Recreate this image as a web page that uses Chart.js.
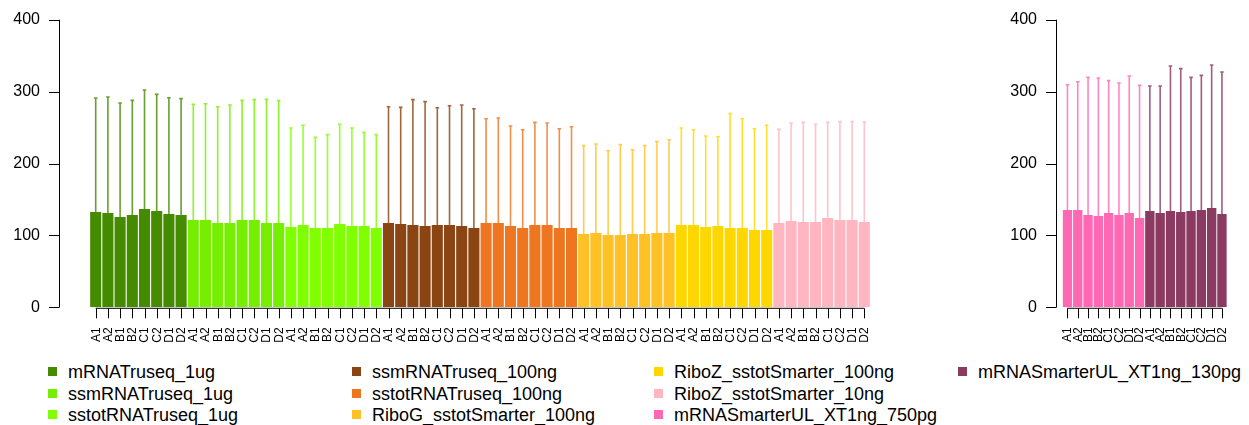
<!DOCTYPE html>
<html>
<head>
<meta charset="utf-8">
<script src="https://cdn.jsdelivr.net/npm/chart.js@4"></script>
<style>
  body { margin: 0; background: #fff; width: 1249px; height: 425px; overflow: hidden; position: relative; font-family: "Liberation Sans", Arial, sans-serif; }
  #leftBox { position: absolute; left: 0; top: 0; width: 900px; height: 360px; }
  #rightBox { position: absolute; left: 990px; top: 0; width: 259px; height: 360px; }
  .item { position: absolute; font-size: 18px; line-height: 20px; color: #000; white-space: nowrap; }
  .item span { position: absolute; width: 9px; height: 9px; left: -20px; top: 5px; }
</style>
</head>
<body>
<div id="leftBox"><canvas id="leftChart" width="900" height="360"></canvas></div>
<div id="rightBox"><canvas id="rightChart" width="259" height="360"></canvas></div>
<div id="legend"></div>

<script>
// replicate labels under every group
const replicates = ['A1', 'A2', 'B1', 'B2', 'C1', 'C2', 'D1', 'D2'];
const yTicks = [0, 100, 200, 300, 400];

// group means and upper error ends
const mRNATruseq1ug = [132.6, 131.2, 125.6, 128.4, 136.7, 134.0, 129.8, 128.4];
const mRNATruseq1ugUpper = [291.1, 292.5, 284.1, 287.8, 302.2, 296.2, 291.5, 290.2];
const ssmRNATruseq1ug = [121.4, 121.4, 117.3, 117.3, 121.4, 121.4, 117.3, 117.3];
const ssmRNATruseq1ugUpper = [282.3, 283.2, 279.0, 281.3, 287.8, 288.8, 289.2, 287.4];
const sstotRNATruseq1ug = [111.7, 114.5, 110.3, 110.3, 115.9, 113.1, 113.1, 110.3];
const sstotRNATruseq1ugUpper = [249.4, 253.1, 236.4, 240.1, 254.5, 249.4, 243.3, 240.1];
const ssmRNATruseq100ng = [117.3, 115.9, 114.5, 113.1, 114.5, 114.5, 113.1, 110.3];
const ssmRNATruseq100ngUpper = [279.0, 278.1, 288.8, 286.0, 277.6, 280.4, 281.3, 276.2];
const sstotRNATruseq100ng = [117.3, 117.3, 113.1, 110.3, 114.5, 114.5, 110.3, 110.3];
const sstotRNATruseq100ngUpper = [262.3, 263.3, 252.1, 247.0, 257.2, 256.3, 248.4, 251.2];
const riboGsstot100ng = [102.0, 103.4, 100.6, 100.6, 102.0, 102.0, 103.4, 103.4];
const riboGsstot100ngUpper = [224.8, 227.1, 217.8, 226.2, 219.2, 224.8, 230.4, 233.1];
const riboZsstot100ng = [114.5, 114.5, 111.7, 113.1, 110.3, 110.3, 107.5, 107.5];
const riboZsstot100ngUpper = [249.4, 247.0, 238.2, 237.3, 269.3, 262.3, 248.4, 253.1];
const riboZsstot10ng = [117.3, 120.0, 118.7, 118.7, 124.2, 121.4, 121.4, 118.7];
const riboZsstot10ngUpper = [247.5, 256.3, 257.2, 254.5, 257.2, 258.2, 258.2, 257.7];
const smarterUL750pg = [135.3, 135.3, 128.4, 127.0, 131.2, 128.4, 131.2, 124.2];
const smarterUL750pgUpper = [309.6, 313.8, 319.8, 318.9, 315.2, 311.9, 321.7, 308.7];
const smarterUL130pg = [134.0, 131.2, 134.0, 132.6, 134.0, 135.3, 138.1, 129.8];
const smarterUL130pgUpper = [307.8, 307.8, 335.6, 331.9, 319.8, 322.6, 337.0, 327.2];

const leftGroups = [
  { name: 'mRNATruseq_1ug', color: '#458B00', mean: mRNATruseq1ug, upper: mRNATruseq1ugUpper },
  { name: 'ssmRNATruseq_1ug', color: '#76EE00', mean: ssmRNATruseq1ug, upper: ssmRNATruseq1ugUpper },
  { name: 'sstotRNATruseq_1ug', color: '#7FFF00', mean: sstotRNATruseq1ug, upper: sstotRNATruseq1ugUpper },
  { name: 'ssmRNATruseq_100ng', color: '#8B4513', mean: ssmRNATruseq100ng, upper: ssmRNATruseq100ngUpper },
  { name: 'sstotRNATruseq_100ng', color: '#EE7621', mean: sstotRNATruseq100ng, upper: sstotRNATruseq100ngUpper },
  { name: 'RiboG_sstotSmarter_100ng', color: '#FFC125', mean: riboGsstot100ng, upper: riboGsstot100ngUpper },
  { name: 'RiboZ_sstotSmarter_100ng', color: '#FFD700', mean: riboZsstot100ng, upper: riboZsstot100ngUpper },
  { name: 'RiboZ_sstotSmarter_10ng', color: '#FFB6C1', mean: riboZsstot10ng, upper: riboZsstot10ngUpper }
];
const rightGroups = [
  { name: 'mRNASmarterUL_XT1ng_750pg', color: '#FF69B4', mean: smarterUL750pg, upper: smarterUL750pgUpper },
  { name: 'mRNASmarterUL_XT1ng_130pg', color: '#8B3A62', mean: smarterUL130pg, upper: smarterUL130pgUpper }
];

// R style axes + error bars, drawn with the chart's own scales
const rAxes = {
  id: 'rAxes',
  afterDatasetsDraw(chart) {
    const ctx = chart.ctx;
    const meta = chart.getDatasetMeta(0);
    const upper = chart.data.datasets[0].upper;
    const colors = chart.data.datasets[0].backgroundColor;
    const y = chart.scales.y;
    ctx.save();
    meta.data.forEach((bar, i) => {
      const top = y.getPixelForValue(upper[i]);
      ctx.strokeStyle = colors[i] + 'D0';
      ctx.lineWidth = 1.6;
      ctx.beginPath();
      ctx.moveTo(bar.x, bar.y);
      ctx.lineTo(bar.x, top);
      ctx.moveTo(bar.x - 1.8, top);
      ctx.lineTo(bar.x + 1.8, top);
      ctx.stroke();
    });
    ctx.restore();
  },
  afterDraw(chart) {
    const ctx = chart.ctx;
    const y = chart.scales.y;
    const area = chart.chartArea;
    const ax = chart.options.plugins.rAxes.axisX;
    ctx.save();
    ctx.strokeStyle = '#000';
    ctx.fillStyle = '#000';
    ctx.lineWidth = 1;

    // y axis
    ctx.beginPath();
    ctx.moveTo(ax + 0.5, y.getPixelForValue(0));
    ctx.lineTo(ax + 0.5, y.getPixelForValue(400));
    yTicks.forEach(v => {
      const py = Math.round(y.getPixelForValue(v)) + 0.5;
      ctx.moveTo(ax + 0.5, py);
      ctx.lineTo(ax - 10, py);
    });
    ctx.stroke();
    ctx.font = '16px "Liberation Sans", Arial, sans-serif';
    ctx.textAlign = 'right';
    ctx.textBaseline = 'middle';
    yTicks.forEach(v => ctx.fillText(String(v), ax - 19, y.getPixelForValue(v)));

    // x axis
    const bars = chart.getDatasetMeta(0).data;
    const base = area.bottom + 1;
    ctx.beginPath();
    ctx.moveTo(bars[0].x, base);
    ctx.lineTo(bars[bars.length - 1].x, base);
    bars.forEach(b => {
      const px = Math.round(b.x) + 0.5;
      ctx.moveTo(px, base);
      ctx.lineTo(px, base + 10);
    });
    ctx.stroke();
    ctx.font = '12px "Liberation Sans", Arial, sans-serif';
    ctx.textAlign = 'right';
    ctx.textBaseline = 'middle';
    bars.forEach((b, i) => {
      ctx.save();
      ctx.translate(b.x + 0.5, base + 19);
      ctx.rotate(-Math.PI / 2);
      ctx.fillText(chart.data.labels[i], 0, 0);
      ctx.restore();
    });
    ctx.restore();
  }
};

function makeChart(id, groups, padding, axisX) {
  const labels = [];
  const values = [];
  const upper = [];
  const colors = [];
  groups.forEach(g => {
    replicates.forEach((r, i) => {
      labels.push(r);
      values.push(g.mean[i]);
      upper.push(g.upper[i]);
      colors.push(g.color);
    });
  });
  return new Chart(document.getElementById(id), {
    type: 'bar',
    data: {
      labels: labels,
      datasets: [{
        data: values,
        upper: upper,
        backgroundColor: colors,
        borderWidth: 0,
        categoryPercentage: 1,
        barPercentage: 0.91
      }]
    },
    options: {
      responsive: false,
      animation: false,
      devicePixelRatio: 1,
      layout: { padding: padding },
      plugins: {
        legend: { display: false },
        tooltip: { enabled: false },
        rAxes: { axisX: axisX }
      },
      scales: {
        x: { display: false },
        y: { display: false, min: 0, max: 400 }
      }
    },
    plugins: [rAxes]
  });
}

makeChart('leftChart', leftGroups, { left: 89.6, right: 29.6, top: 19.7, bottom: 52.7 }, 59);
makeChart('rightChart', rightGroups, { left: 72.3, right: 21.9, top: 19.7, bottom: 52.7 }, 66);

// legend, four columns
const legendGroups = leftGroups.concat(rightGroups);
const legendCols = [68, 372, 674, 978];
const legendRows = [362, 383.5, 405];
const legend = document.getElementById('legend');
legendGroups.forEach((g, i) => {
  const d = document.createElement('div');
  d.className = 'item';
  d.style.left = legendCols[Math.floor(i / 3)] + 'px';
  d.style.top = legendRows[i % 3] + 'px';
  d.innerHTML = '<span style="background:' + g.color + '"></span>' + g.name;
  legend.appendChild(d);
});
</script>
</body>
</html>
